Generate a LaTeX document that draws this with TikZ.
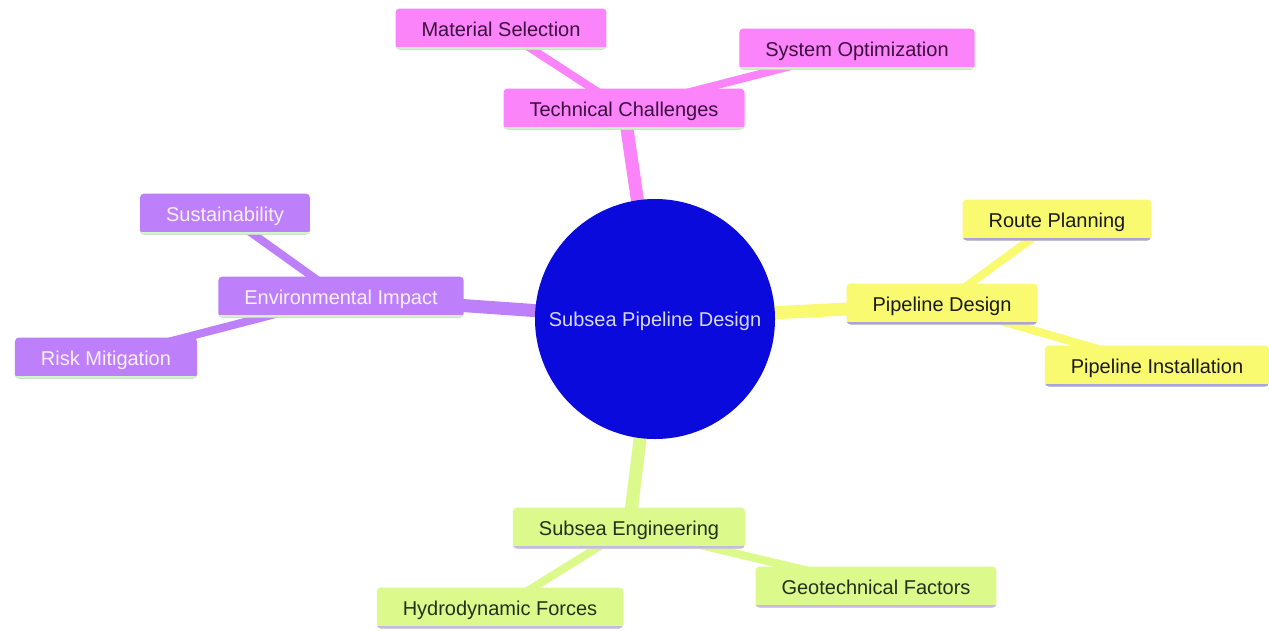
\documentclass[tikz,border=0pt]{standalone}
\usepackage{fontspec}
\setmainfont{Liberation Sans}
\usetikzlibrary{backgrounds}
\definecolor{pinkF}{RGB}{252,132,250}
\definecolor{pinkT}{RGB}{58,14,58}
\definecolor{pinkU}{RGB}{200,245,192}
\definecolor{purpF}{RGB}{190,128,250}
\definecolor{purpT}{RGB}{248,240,255}
\definecolor{purpU}{RGB}{208,245,200}
\definecolor{yellF}{RGB}{250,250,112}
\definecolor{yellT}{RGB}{26,26,26}
\definecolor{yellU}{RGB}{168,164,224}
\definecolor{limeF}{RGB}{220,250,140}
\definecolor{limeT}{RGB}{34,48,24}
\definecolor{limeU}{RGB}{200,184,232}
\definecolor{rootF}{RGB}{10,10,220}
\definecolor{rootT}{RGB}{216,216,255}
\tikzset{
  box/.style n args={3}{rectangle, rounded corners=4pt, fill=#1, text=#2,
    inner xsep=26pt, inner ysep=0pt, minimum height=41pt,
    text height=18pt, text depth=4pt,
    font=\fontsize{20}{24}\selectfont,
    path picture={\draw[#3, line width=6pt]
      (path picture bounding box.south west) -- (path picture bounding box.south east);}},
  pinkbox/.style={box={pinkF}{pinkT}{pinkU}},
  purpbox/.style={box={purpF}{purpT}{purpU}},
  yellbox/.style={box={yellF}{yellT}{yellU}},
  limebox/.style={box={limeF}{limeT}{limeU}},
  root/.style={circle, fill=rootF, text=rootT, minimum size=240pt, inner sep=0pt,
    text height=18pt, text depth=4pt,
    font=\fontsize{20}{24}\selectfont},
  edgeA/.style={line width=13pt, draw=#1},
  edgeB/.style={line width=8pt, draw=#1},
}
\begin{document}
\begin{tikzpicture}[x=1pt,y=-1pt]
\useasboundingbox (0,0) rectangle (1269,630);
% nodes
\node[root] (c) at (655,319) {Subsea Pipeline Design};
\node[pinkbox] (tc) at (624,109) {Technical Challenges};
\node[pinkbox] (ms) at (501,29) {Material Selection};
\node[pinkbox] (so) at (857,49) {System Optimization};
\node[purpbox] (ei) at (341,297) {Environmental Impact};
\node[purpbox] (su) at (225,214) {Sustainability};
\node[purpbox] (rm) at (106,358) {Risk Mitigation};
\node[yellbox] (pd) at (942,304) {Pipeline Design};
\node[yellbox] (rp) at (1057,220) {Route Planning};
\node[yellbox] (pi) at (1157,366) {Pipeline Installation};
\node[limebox] (se) at (629,528) {Subsea Engineering};
\node[limebox] (hf) at (500,608) {Hydrodynamic Forces};
\node[limebox] (gf) at (876,587) {Geotechnical Factors};
% edges behind nodes
\begin{scope}[on background layer]
\fill[white] (0,0) rectangle (1269,630);
\draw[edgeA=pinkF] (c.center) -- (tc.center);
\draw[edgeB=pinkF] (tc.center) -- (ms.center);
\draw[edgeB=pinkF] (tc.center) -- (so.center);
\draw[edgeA=purpF] (c.center) -- (ei.center);
\draw[edgeB=purpF] (ei.center) -- (su.center);
\draw[edgeB=purpF] (ei.center) -- (rm.center);
\draw[edgeA=yellF] (c.center) -- (pd.center);
\draw[edgeB=yellF] (pd.center) -- (rp.center);
\draw[edgeB=yellF] (pd.center) -- (pi.center);
\draw[edgeA=limeF] (c.center) -- (se.center);
\draw[edgeB=limeF] (se.center) -- (hf.center);
\draw[edgeB=limeF] (se.center) -- (gf.center);
\end{scope}
\end{tikzpicture}
\end{document}
